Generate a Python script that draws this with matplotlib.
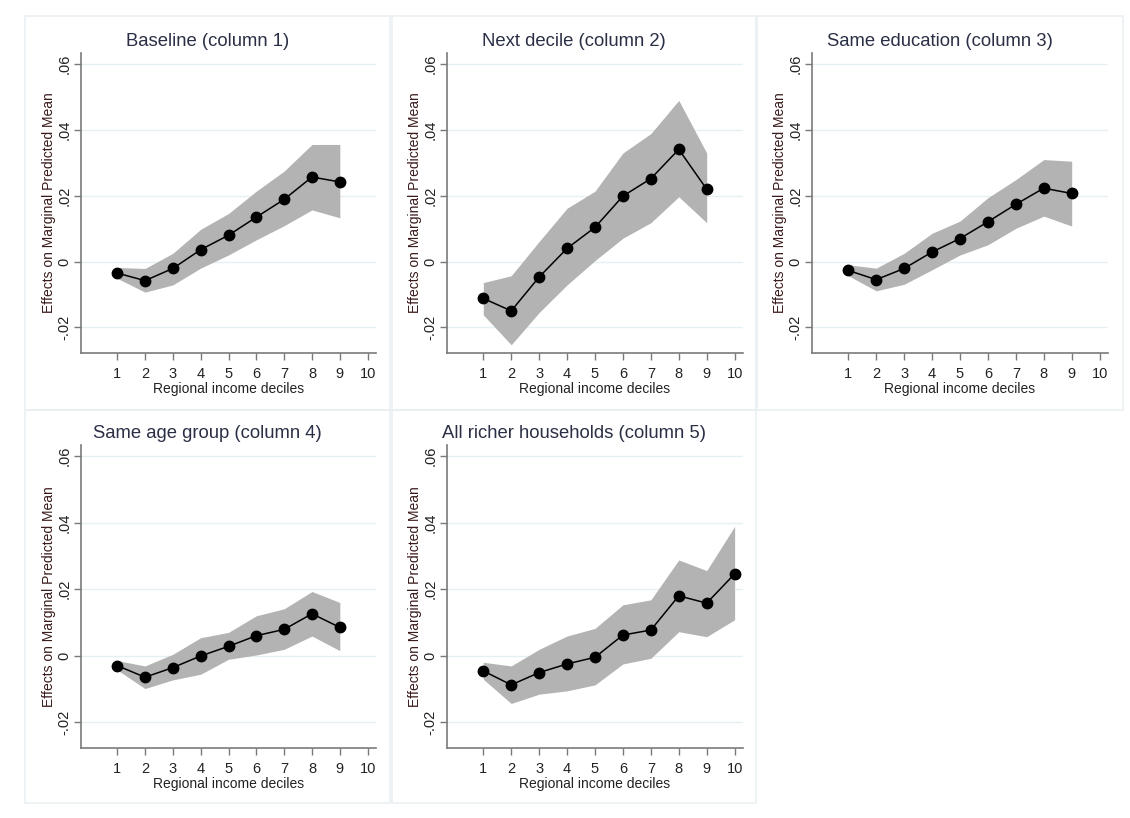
import matplotlib
matplotlib.use("Agg")
import matplotlib.pyplot as plt
from matplotlib.patches import Rectangle

plt.rcParams['font.family'] = ['Liberation Sans', 'DejaVu Sans']

titles = ["Baseline (column 1)", "Next decile (column 2)", "Same education (column 3)",
          "Same age group (column 4)", "All richer households (column 5)"]
xlabel = "Regional income deciles"
ylabel = "Effects on Marginal Predicted Mean"
yticks = [-0.02, 0, 0.02, 0.04, 0.06]
yticklabels = ["-.02", "0", ".02", ".04", ".06"]
xticks = [1, 2, 3, 4, 5, 6, 7, 8, 9, 10]

x9 = [1, 2, 3, 4, 5, 6, 7, 8, 9]
x10 = [1, 2, 3, 4, 5, 6, 7, 8, 9, 10]

est1 = [-0.0035, -0.0058, -0.0021, 0.0036, 0.0080, 0.0135, 0.0189, 0.0257, 0.0242]
hi1 = [-0.0018, -0.0021, 0.0025, 0.0098, 0.0146, 0.0214, 0.0275, 0.0356, 0.0356]
lo1 = [-0.0051, -0.0093, -0.0071, -0.0020, 0.0020, 0.0066, 0.0109, 0.0157, 0.0133]

est2 = [-0.0112, -0.0150, -0.0047, 0.0040, 0.0104, 0.0199, 0.0252, 0.0341, 0.0220]
hi2 = [-0.0064, -0.0043, 0.0061, 0.0162, 0.0214, 0.0330, 0.0389, 0.0490, 0.0330]
lo2 = [-0.0162, -0.0253, -0.0155, -0.0071, 0.0003, 0.0071, 0.0118, 0.0197, 0.0118]

est3 = [-0.0027, -0.0055, -0.0021, 0.0029, 0.0070, 0.0121, 0.0174, 0.0223, 0.0207]
hi3 = [-0.0010, -0.0020, 0.0025, 0.0086, 0.0123, 0.0194, 0.0249, 0.0310, 0.0305]
lo3 = [-0.0043, -0.0089, -0.0069, -0.0025, 0.0020, 0.0051, 0.0101, 0.0138, 0.0108]

est4 = [-0.0030, -0.0065, -0.0036, -0.0001, 0.0028, 0.0060, 0.0079, 0.0126, 0.0085]
hi4 = [-0.0015, -0.0031, 0.0004, 0.0054, 0.0070, 0.0120, 0.0141, 0.0193, 0.0160]
lo4 = [-0.0043, -0.0099, -0.0073, -0.0056, -0.0011, 0.0002, 0.0019, 0.0059, 0.0015]

est5 = [-0.0046, -0.0088, -0.0051, -0.0025, -0.0005, 0.0062, 0.0077, 0.0180, 0.0158, 0.0246]
hi5 = [-0.0020, -0.0031, 0.0019, 0.0059, 0.0082, 0.0153, 0.0168, 0.0288, 0.0256, 0.0389]
lo5 = [-0.0071, -0.0144, -0.0116, -0.0106, -0.0088, -0.0025, -0.0008, 0.0072, 0.0057, 0.0108]

series = [(x9, est1, lo1, hi1), (x9, est2, lo2, hi2), (x9, est3, lo3, hi3),
          (x9, est4, lo4, hi4), (x10, est5, lo5, hi5)]

W, H = 1130, 818
fig = plt.figure(figsize=(W / 100, H / 100), dpi=100)
fig.patch.set_facecolor("white")

def fx(x):
    return x / W

def fy(y):
    return 1 - y / H

# panel boxes (left, top, right, bottom) in pixels
boxes = [(25, 16, 390, 410), (392, 16, 756, 410), (757, 16, 1123, 410),
         (25, 410, 390, 803), (392, 410, 756, 803)]
# axes rectangles (left, top, right, bottom) in pixels
axrects = [(81, 53, 376, 353), (447, 53, 743, 353), (812, 53, 1108, 353),
           (81, 445, 376, 748), (447, 445, 743, 748)]

border_col = "#eaf0f2"
for (l, t, r, b) in boxes:
    rect = Rectangle((fx(l), fy(b)), fx(r - l), (b - t) / H,
                     transform=fig.transFigure, facecolor="none",
                     edgecolor=border_col, linewidth=1.2, zorder=-10)
    fig.add_artist(rect)

text_col = "#222222"
axis_col = "#7a7a7a"
for i, ((l, t, r, b), box, (xs, est, lo, hi)) in enumerate(zip(axrects, boxes, series)):
    ax = fig.add_axes([fx(l), fy(b), fx(r - l), (b - t) / H])
    ax.set_facecolor("none")
    ax.set_xlim(-0.3, 10.3)
    ax.set_ylim(-0.0278, 0.0634)
    for yt in yticks:
        ax.axhline(yt, color="#e6eff1", linewidth=1.0, zorder=0)
    ax.fill_between(xs, lo, hi, color="#b3b3b3", linewidth=0, zorder=1)
    ax.plot(xs, est, color="black", linewidth=1.1, marker="o", markersize=7.5,
            markerfacecolor="black", markeredgecolor="black", zorder=3)
    for s in ["top", "right"]:
        ax.spines[s].set_visible(False)
    for s in ["left", "bottom"]:
        ax.spines[s].set_color(axis_col)
        ax.spines[s].set_linewidth(1.2)
    ax.set_yticks(yticks)
    ax.set_yticklabels(yticklabels, rotation=90, va="center")
    ax.set_xticks(xticks)
    ax.set_xticklabels([str(v) for v in xticks])
    ax.tick_params(axis="both", colors=axis_col, labelcolor=text_col, labelsize=10.5,
                   length=5, width=1.0, direction="out")
    ax.tick_params(axis="y", pad=2)
    ax.tick_params(axis="x", pad=5)
    ax.set_xlabel(xlabel, fontsize=10, color=text_col, labelpad=1)
    ax.set_ylabel(ylabel, fontsize=10, color="#3a1a1a", labelpad=1)
    bl, bt, br, bb = box
    fig.text(fx((bl + br) / 2), fy(t - 3), titles[i], ha="center", va="bottom",
             fontsize=13.3, color="#2a2f45")

fig.savefig("out.png", dpi=100)
